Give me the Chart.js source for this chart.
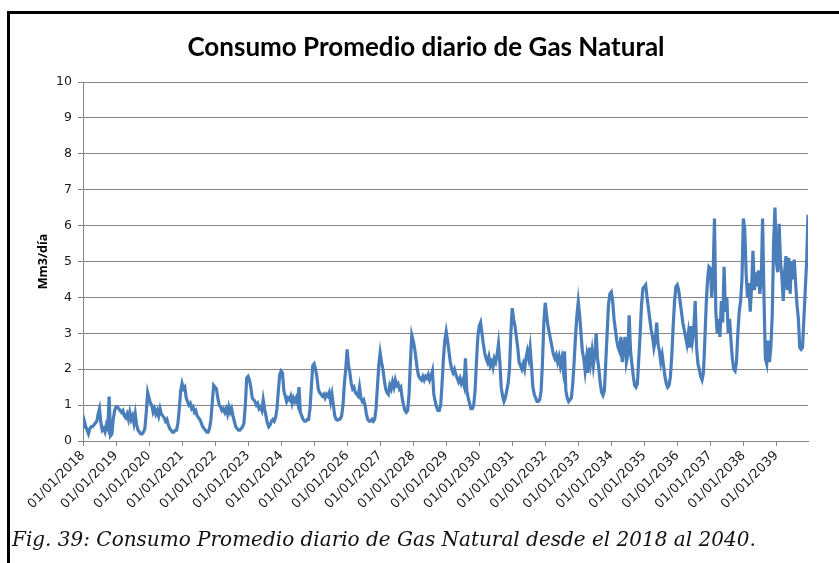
<!DOCTYPE html>
<html>
<head>
<meta charset="utf-8">
<title>Consumo Promedio diario de Gas Natural</title>
<script src="https://cdn.jsdelivr.net/npm/chart.js"></script>
<style>
    body { margin: 0; background: #fff; }
    #wrap { position: relative; width: 839px; height: 563px; overflow: hidden; }
    #grafico { position: absolute; left: 0; top: 0; }
    #marco { position: absolute; left: 7px; top: 11px; width: 840px; height: 560px; border-left: 3px solid #000; border-top: 3px solid #000; }
    #titulo { position: absolute; left: 0; top: 31px; width: 852px; text-align: center; font: bold 26px Lato; line-height: 30px; color: #000; white-space: nowrap; }
    #pie { position: absolute; left: 12px; top: 527px; font: italic 20px "DejaVu Serif"; color: #111; white-space: nowrap; }
</style>
</head>
<body>
<div id="wrap">
    <canvas id="grafico" width="839" height="563"></canvas>
    <div id="marco"></div>
    <div id="titulo">Consumo Promedio diario de Gas Natural</div>
    <div id="pie">Fig. 39: Consumo Promedio diario de Gas Natural desde el 2018 al 2040.</div>
</div>

<script>
    // Consumo (Mm3/día), 24 muestras por año, desde el 01/01 de cada año
    var anios = [2018, 2019, 2020, 2021, 2022, 2023, 2024, 2025, 2026, 2027, 2028,
                 2029, 2030, 2031, 2032, 2033, 2034, 2035, 2036, 2037, 2038, 2039];
    var muestrasPorAnio = 24;

    var c2018 = [0.35,0.55,0.4,0.3,0.2,0.35,0.4,0.4,0.45,0.5,0.55,0.75,0.9,0.5,0.3,0.35,0.25,0.45,0.35,1.24,0.15,0.2,0.6,0.85];
    var c2019 = [0.95,0.95,0.9,0.85,0.8,0.85,0.7,0.65,0.75,0.6,0.8,0.6,0.7,0.5,0.75,0.45,0.3,0.25,0.2,0.2,0.25,0.35,0.8,1.35];
    var c2020 = [1.2,1.05,1.0,0.8,0.9,0.75,0.85,0.7,0.9,0.75,0.7,0.65,0.55,0.6,0.45,0.35,0.3,0.25,0.25,0.3,0.3,0.5,0.9,1.4];
    var c2021 = [1.6,1.45,1.5,1.2,1.1,1.0,1.05,0.9,0.95,0.8,0.85,0.7,0.65,0.6,0.5,0.4,0.35,0.3,0.25,0.25,0.35,0.6,1.1,1.55];
    var c2022 = [1.5,1.45,1.2,1.0,0.95,0.85,0.9,0.8,0.9,0.75,0.95,0.8,0.9,0.7,0.55,0.4,0.35,0.3,0.3,0.35,0.4,0.5,1.0,1.75];
    var c2023 = [1.8,1.7,1.5,1.2,1.15,1.1,1.0,1.05,0.9,0.95,0.85,1.15,0.9,0.7,0.5,0.4,0.45,0.55,0.6,0.55,0.65,0.9,1.4,1.85];
    var c2024 = [1.95,1.9,1.4,1.25,1.1,1.2,1.15,1.25,1.05,1.2,1.1,1.2,1.05,1.5,0.8,0.7,0.6,0.55,0.55,0.6,0.6,0.9,1.5,2.1];
    var c2025 = [2.15,2.0,1.8,1.45,1.35,1.3,1.25,1.3,1.2,1.3,1.25,1.35,1.1,1.3,1.0,0.7,0.6,0.58,0.6,0.62,0.7,1.0,1.6,2.0];
    var c2026 = [2.55,2.1,1.9,1.6,1.45,1.5,1.35,1.3,1.25,1.5,1.2,1.1,1.15,1.0,0.75,0.6,0.55,0.55,0.6,0.55,0.6,0.9,1.5,2.1];
    var c2027 = [2.45,2.2,2.0,1.7,1.45,1.35,1.3,1.55,1.45,1.65,1.5,1.7,1.55,1.6,1.45,1.5,1.2,1.0,0.85,0.8,0.85,1.3,2.2,2.95];
    var c2028 = [2.8,2.6,2.3,2.0,1.8,1.75,1.7,1.8,1.7,1.8,1.75,1.85,1.7,1.8,1.95,1.3,1.1,0.95,0.85,0.85,1.0,1.6,2.3,2.8];
    var c2029 = [3.05,2.8,2.5,2.2,2.0,1.9,2.0,1.85,1.75,1.65,1.75,1.6,1.7,1.55,2.3,1.4,1.2,1.05,0.9,0.9,1.0,1.4,2.2,2.9];
    var c2030 = [3.2,3.3,3.0,2.7,2.45,2.3,2.2,2.35,2.1,2.2,2.05,2.3,2.2,2.4,2.7,2.2,1.5,1.25,1.1,1.2,1.4,1.6,2.0,3.0];
    var c2031 = [3.7,3.4,3.2,2.9,2.6,2.2,2.1,2.0,2.15,2.0,2.3,2.5,2.3,2.6,2.1,1.5,1.3,1.2,1.1,1.1,1.15,1.4,2.2,3.3];
    var c2032 = [3.85,3.5,3.2,3.0,2.8,2.6,2.4,2.3,2.4,2.2,2.35,2.1,2.3,2.0,2.5,1.4,1.2,1.1,1.15,1.2,1.6,2.2,2.9,3.5];
    var c2033 = [3.88,3.5,3.0,2.5,2.3,1.95,2.3,1.9,2.6,2.2,2.5,2.1,2.4,3.0,2.3,2.0,1.6,1.35,1.27,1.4,2.2,3.0,3.8,4.1];
    var c2034 = [4.15,3.9,3.4,3.1,2.8,2.6,2.5,2.9,2.2,2.6,2.9,2.2,2.4,3.5,2.5,2.15,1.8,1.55,1.5,1.6,2.3,3.0,3.8,4.25];
    var c2035 = [4.3,4.35,4.0,3.7,3.4,3.1,2.9,2.6,2.8,3.3,2.7,2.5,2.2,2.4,2.1,1.8,1.6,1.5,1.55,1.8,2.4,3.2,3.9,4.3];
    var c2036 = [4.35,4.2,3.9,3.6,3.3,3.1,2.9,2.7,3.0,2.6,3.2,2.8,3.1,3.9,2.6,2.15,2.0,1.8,1.7,1.9,2.8,3.8,4.5,4.85];
    var c2037 = [4.8,4.0,4.6,6.2,3.6,3.0,3.4,2.9,3.9,3.3,4.85,3.6,4.0,3.0,3.4,2.8,2.3,2.0,1.95,2.2,3.0,3.6,3.9,4.5];
    var c2038 = [6.2,5.9,4.7,4.0,4.4,3.6,4.3,5.3,4.2,4.7,4.3,4.75,4.1,4.5,6.2,4.0,2.3,2.15,2.8,2.2,2.6,3.5,5.5,6.5];
    var c2039 = [5.0,4.7,6.05,5.0,4.6,3.9,4.7,5.15,4.2,5.1,4.1,5.0,4.5,5.05,4.4,3.8,3.4,2.6,2.55,2.6,3.4,4.2,5.0,6.3];

    var consumo = [c2018, c2019, c2020, c2021, c2022, c2023, c2024, c2025, c2026, c2027, c2028,
                   c2029, c2030, c2031, c2032, c2033, c2034, c2035, c2036, c2037, c2038, c2039];

    // armar los puntos (x = año decimal)
    var puntos = [];
    for (var a = 0; a < anios.length; a++) {
        for (var i = 0; i < consumo[a].length; i++) {
            puntos.push({ x: anios[a] + i / muestrasPorAnio, y: consumo[a][i] });
        }
    }
    var xFin = puntos[puntos.length - 1].x;

    var gris = '#868686';
    var ctx = document.getElementById('grafico').getContext('2d');
    var grafico = new Chart(ctx, {
        type: 'line',
        data: {
            datasets: [{
                label: 'Consumo',
                data: puntos,
                borderColor: '#4a7ebb',
                borderWidth: 3.2,
                pointRadius: 0,
                tension: 0,
                fill: false
            }]
        },
        options: {
            responsive: false,
            animation: false,
            layout: { padding: { left: 10, right: 31, top: 82, bottom: 0 } },
            plugins: {
                legend: { display: false },
                tooltip: { enabled: false },
                title: { display: false }
            },
            scales: {
                x: {
                    type: 'linear',
                    min: anios[0],
                    max: xFin,
                    afterBuildTicks: function (scale) {
                        scale.ticks = scale.ticks.filter(function (t) { return Number.isInteger(t.value); });
                    },
                    afterFit: function (scale) { scale.height = 122; },
                    ticks: {
                        stepSize: 1,
                        autoSkip: false,
                        minRotation: 45,
                        maxRotation: 45,
                        padding: 2,
                        color: '#1a1a1a',
                        font: { family: 'DejaVu Sans', size: 13 },
                        callback: function (v) { return '01/01/' + v; }
                    },
                    grid: { drawOnChartArea: false, drawTicks: true, tickLength: 5, color: gris },
                    border: { color: gris }
                },
                y: {
                    min: 0,
                    max: 10,
                    afterFit: function (scale) { scale.width = 73; },
                    ticks: {
                        stepSize: 1,
                        padding: 6,
                        color: '#1a1a1a',
                        font: { family: 'DejaVu Sans', size: 12.5 }
                    },
                    grid: { color: gris, tickLength: 5 },
                    border: { color: gris },
                    title: {
                        display: true,
                        text: 'Mm3/día',
                        color: '#000',
                        font: { family: 'Open Sans', size: 12.5, weight: 'bold' },
                        padding: { top: 26, bottom: 0 }
                    }
                }
            }
        }
    });
</script>
</body>
</html>
